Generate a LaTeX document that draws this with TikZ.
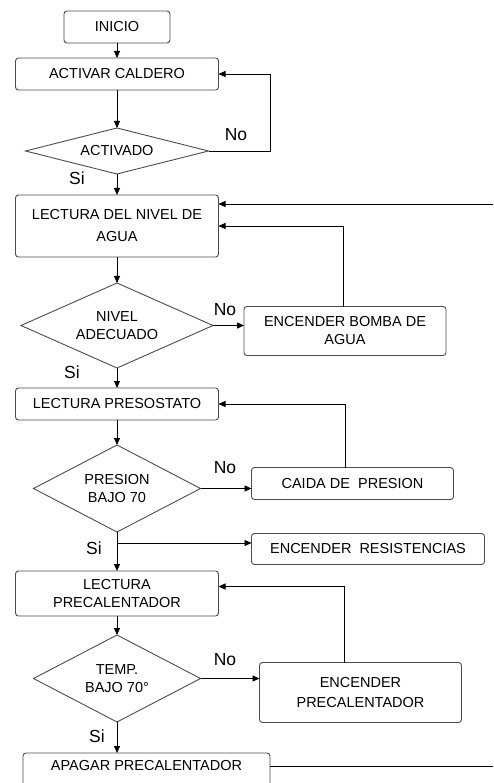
\documentclass[tikz,border=0pt]{standalone}
\usepackage{fontspec}
\setmainfont{Liberation Sans}
\usetikzlibrary{shapes.geometric, positioning, arrows.meta}

\begin{document}
\begin{tikzpicture}[x=1pt, y=1pt, >={Triangle[length=7pt, width=6pt]}]
    \tikzset{
        % Define style for boxes
        caja/.style={
                rectangle,
                rounded corners=3pt,
                draw=black!70, line width=0.9pt,
                inner sep=0pt, outer sep=0pt,
                align=center,
                font=\fontsize{14.5}{18}\selectfont},
        % Define style for decisions
        rombo/.style={
                diamond,
                draw=black!70, line width=0.9pt,
                inner sep=0pt, outer sep=0pt,
                align=center,
                font=\fontsize{14.5}{18}\selectfont},
        % Define arrow style
        flecha/.style={
                ->,
                line width=0.9pt},
        % Define style for Si / No
        etiqueta/.style={
                font=\fontsize{17.5}{19}\selectfont},
    }
    \useasboundingbox (0,0) rectangle (493,-783);

    % Draw the main column
    \node[caja, minimum width=106pt, minimum height=32pt] (inicio) at (117,-27) {INICIO};
    \node[caja, minimum width=203pt, minimum height=32pt, below=15pt of inicio] (activar) {ACTIVAR CALDERO};
    \node[rombo, minimum width=183pt, minimum height=46pt, shape aspect=4, below=38pt of activar] (activado) {ACTIVADO};
    \node[caja, minimum width=203pt, minimum height=62pt, below=21pt of activado,
          font=\fontsize{14.5}{22}\selectfont] (nivel) {LECTURA DEL NIVEL DE\\AGUA};
    \node[rombo, minimum width=192pt, minimum height=85pt, shape aspect=2.2, below=26pt of nivel] (nivelok) {NIVEL\\ADECUADO};
    \node[caja, minimum width=203pt, minimum height=32pt, below=20pt of nivelok] (presostato) {LECTURA PRESOSTATO};
    \node[rombo, minimum width=167pt, minimum height=87pt, shape aspect=1.9, below=25pt of presostato] (presion) {PRESION\\BAJO 70};
    \node[caja, minimum width=203pt, minimum height=45pt, below=39pt of presion] (precal) {LECTURA\\PRECALENTADOR};
    \node[rombo, minimum width=167pt, minimum height=87pt, shape aspect=1.9, below=19pt of precal] (temp) {TEMP.\\BAJO 70°};
    \node[caja, minimum width=247pt, minimum height=36pt, below=31pt of temp, xshift=29.5pt,
          text depth=12pt] (apagar) {APAGAR PRECALENTADOR};

    % Draw the side boxes
    \node[caja, minimum width=202pt, minimum height=49pt, right=31pt of nivelok, yshift=-5.5pt] (bomba) {ENCENDER BOMBA DE\\AGUA};
    \node[caja, minimum width=202pt, minimum height=32pt, right=51pt of presion, yshift=5pt] (caida) {CAIDA DE\ \ PRESION};
    \node[caja, minimum width=233pt, minimum height=31pt, below=34pt of caida.south west, anchor=north west] (resist) {ENCENDER\ \ RESISTENCIAS};
    \node[caja, minimum width=202pt, minimum height=60pt, right=59pt of temp, yshift=-14pt,
          font=\fontsize{14.5}{20}\selectfont] (encprecal) {ENCENDER\\PRECALENTADOR};

    % Free ends of the long return
    \coordinate (retorno) at (493,-204);
    \coordinate (salida) at (493,-766);
    \coordinate[below=11pt of presion.south] (rama);

    % Si / No
    \node[etiqueta] (no1) at (236,-135) {No};
    \node[etiqueta] (si1) at (77,-178) {Si};
    \node[etiqueta] (no2) at (225,-310) {No};
    \node[etiqueta] (si2) at (72,-372) {Si};
    \node[etiqueta] (no3) at (225,-468) {No};
    \node[etiqueta] (si3) at (94,-548) {Si};
    \node[etiqueta] (no4) at (225,-660) {No};
    \node[etiqueta] (si4) at (97,-736) {Si};

    % Connect the steps with arrows
    \draw[flecha] (inicio) -- (activar);
    \draw[flecha] (activar) -- (activado);
    \draw[flecha] (activado.east) -- ++(62,0) |- (activar.east);
    \draw[flecha] (activado) -- (nivel);
    \draw[flecha] (retorno) -- (retorno -| nivel.east);
    \draw[flecha] (nivel) -- (nivelok);
    \draw[flecha] (nivelok.east) -- (nivelok.east -| bomba.west);
    \draw[flecha] ([xshift=-2pt]bomba.north) |- (nivel.east);
    \draw[flecha] (nivelok) -- (presostato);
    \draw[flecha] (presostato) -- (presion);
    \draw[flecha] (presion.east) -- (presion.east -| caida.west);
    \draw[flecha] ([xshift=-7pt]caida.north) |- (presostato.east);
    \draw[flecha] (presion) -- (precal);
    \draw[flecha] (rama) -- (rama -| resist.west);
    \draw[flecha] (precal) -- (temp);
    \draw[flecha] (temp.east) -- (temp.east -| encprecal.west);
    \draw[flecha] ([xshift=-16pt]encprecal.north) |- ([yshift=7pt]precal.east);
    \draw[flecha] (temp.south) -- (temp.south |- apagar.north);
    \draw ([yshift=5pt]apagar.east) -- ([yshift=5pt]apagar.east -| salida);
\end{tikzpicture}
\end{document}
